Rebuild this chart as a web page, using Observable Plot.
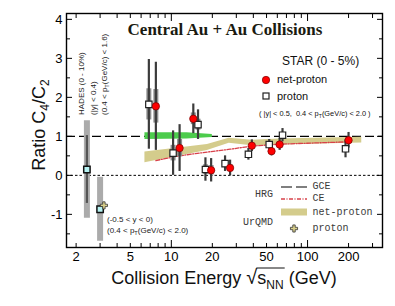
<!DOCTYPE html>
<html><head><meta charset="utf-8">
<script src="https://cdn.jsdelivr.net/npm/d3@7"></script>
<script src="https://cdn.jsdelivr.net/npm/@observablehq/plot@0.6"></script>
<style>body{margin:0;background:#fff} svg{display:block}</style>
</head><body><div id="chart"></div>
<script>
// STAR (0-5%) net-proton C4/C2
const starEnergy = [7.7, 11.5, 14.5, 19.6, 27, 39, 54.4, 62.4, 200];
const netProtonRatio = [1.77, 0.70, 1.45, 0.13, 0.19, 0.76, 0.62, 0.79, 0.90];
const netProtonStat = [1.13, 0.60, 0.38, 0.30, 0.20, 0.15, 0.12, 0.15, 0.20];
const netProtonSys = [0.43, 0.22, 0.15, 0.12, 0.08, 0.06, 0.05, 0.06, 0.07];
// STAR proton C4/C2 (drawn slightly shifted in energy)
const protonEnergy = [6.84, 10.3, 15.7, 17.8, 24.8, 36.8, 52.3, 65.5, 190];
const protonRatio = [1.82, 0.57, 1.30, 0.15, 0.30, 0.54, 0.79, 1.03, 0.68];
const protonStat = [1.15, 0.57, 0.38, 0.30, 0.20, 0.15, 0.13, 0.17, 0.23];
const protonSys = [0.40, 0.20, 0.14, 0.12, 0.08, 0.06, 0.05, 0.06, 0.07];
// HADES (2.4 GeV) and STAR FXT (3 GeV) proton
const fxtEnergy = [2.4, 3.0];
const fxtRatio = [0.15, -0.87];
const fxtStat = [0.87, 0.08];
const fxtSys = [1.25, 0.82];
// UrQMD proton
const urqmdProtonEnergy = [3.2];
const urqmdProtonRatio = [-0.77];
// UrQMD net-proton band
const urqmdBandEnergy = [6.4, 18.4, 26.6, 39, 62.4, 250];
const urqmdBandLow = [0.32, 0.64, 0.82, 0.76, 0.78, 0.83];
const urqmdBandHigh = [0.60, 0.79, 0.95, 0.90, 0.93, 0.98];
// green band
const greenBandEnergy = [6.4, 13, 20];
const greenBandLow = [0.92, 0.93, 0.97];
const greenBandHigh = [1.09, 1.09, 1.05];
// HRG CE
const hrgCeEnergy = [7.7, 11.5, 14.5, 19.6, 27, 39, 62.4, 200];
const hrgCeRatio = [0.38, 0.50, 0.55, 0.61, 0.67, 0.75, 0.80, 0.86];
// HRG GCE
const hrgGceRatio = [1];
const zeroLine = [0];
// ticks
const xTickLabels = [2, 5, 10, 20, 50, 100, 200];
const xMinorTicks = [2, 3, 4, 5, 6, 7, 8, 9, 20, 30, 40, 50, 60, 70, 80, 90, 200, 300];
const xDecadeTicks = [10, 100];
const yTickLabels = [-1, 0, 1, 2, 3, 4];
const yMinorTicks = [-1.5, -0.5, 0.5, 1.5, 2.5, 3.5];

const ix = d3.range(starEnergy.length);
const fx = d3.range(fxtEnergy.length);
const bandU = d3.range(urqmdBandEnergy.length);
const bandG = d3.range(greenBandEnergy.length);
const ce = d3.range(hrgCeEnergy.length);
const blank = () => "";

const plot = Plot.plot({
  width: 395, height: 306,
  marginLeft: 66, marginRight: 13, marginTop: 13, marginBottom: 59,
  x: {type: "log", domain: [1.7, 355]},
  y: {domain: [-1.85, 4.15]},
  style: {fontFamily: "'Liberation Sans', Arial, sans-serif", fontSize: "13px", color: "#000", background: "#fff"},
  marks: [
    Plot.ruleY(zeroLine, {y: d => d, stroke: "#000", strokeWidth: 1, strokeDasharray: "2.5,2"}),
    Plot.ruleY(hrgGceRatio, {y: d => d, stroke: "#000", strokeWidth: 1.1, strokeDasharray: "9,4"}),
    Plot.areaY(bandU, {x: i => urqmdBandEnergy[i], y1: i => urqmdBandLow[i], y2: i => urqmdBandHigh[i], fill: "#d4cc8c"}),
    Plot.areaY(bandG, {x: i => greenBandEnergy[i], y1: i => greenBandLow[i], y2: i => greenBandHigh[i], fill: "#4ccc4c"}),
    Plot.line(ce, {x: i => hrgCeEnergy[i], y: i => hrgCeRatio[i], stroke: "#d8414a", strokeWidth: 1.3, strokeDasharray: "4,1.5,1,1.5"}),
    // systematic boxes
    Plot.ruleX(fx, {x: i => fxtEnergy[i], y1: i => fxtRatio[i] - fxtSys[i], y2: i => fxtRatio[i] + fxtSys[i], stroke: "#ababab", strokeWidth: 6}),
    Plot.ruleX(ix, {x: i => protonEnergy[i], y1: i => protonRatio[i] - protonSys[i], y2: i => protonRatio[i] + protonSys[i], stroke: "#8e8e8e", strokeWidth: 5}),
    Plot.ruleX(ix, {x: i => starEnergy[i], y1: i => netProtonRatio[i] - netProtonSys[i], y2: i => netProtonRatio[i] + netProtonSys[i], stroke: "#8e8e8e", strokeWidth: 5}),
    // statistical bars
    Plot.ruleX(fx, {x: i => fxtEnergy[i], y1: i => fxtRatio[i] - fxtStat[i], y2: i => fxtRatio[i] + fxtStat[i], stroke: "#555", strokeWidth: 2.2}),
    Plot.ruleX(ix, {x: i => protonEnergy[i], y1: i => protonRatio[i] - protonStat[i], y2: i => protonRatio[i] + protonStat[i], stroke: "#3c3c3c", strokeWidth: 2.2}),
    Plot.ruleX(ix, {x: i => starEnergy[i], y1: i => netProtonRatio[i] - netProtonStat[i], y2: i => netProtonRatio[i] + netProtonStat[i], stroke: "#3c3c3c", strokeWidth: 2.2}),
    // markers
    Plot.dot(ix, {x: i => protonEnergy[i], y: i => protonRatio[i], symbol: "square", r: 3.6, fill: "#fff", stroke: "#222", strokeWidth: 1.2}),
    Plot.dot(ix, {x: i => starEnergy[i], y: i => netProtonRatio[i], symbol: "circle", r: 3.7, fill: "#ff0000", stroke: "#700", strokeWidth: 0.7}),
    Plot.dot(fx, {x: i => fxtEnergy[i], y: i => fxtRatio[i], symbol: "square", r: 3.6, fill: "#b6f2f2", stroke: "#111", strokeWidth: 1.5}),
    Plot.dot(urqmdProtonEnergy, {x: d => d, y: (d, i) => urqmdProtonRatio[i], symbol: "cross", r: 3, fill: "#d8cf8a", stroke: "#333", strokeWidth: 0.8}),
    // axes
    Plot.text(xTickLabels, {x: d => d, text: d => String(d), frameAnchor: "bottom", lineAnchor: "top", dy: 4, fontSize: 13, fill: "#000"}),
    Plot.axisX(xMinorTicks, {anchor: "bottom", tickSize: -4, tickFormat: blank, label: null}),
    Plot.axisX(xDecadeTicks, {anchor: "bottom", tickSize: -7, tickFormat: blank, label: null}),
    Plot.axisX(xMinorTicks, {anchor: "top", tickSize: -4, tickFormat: blank, label: null}),
    Plot.axisX(xDecadeTicks, {anchor: "top", tickSize: -7, tickFormat: blank, label: null}),
    Plot.axisY(yTickLabels, {anchor: "left", tickSize: -6, tickPadding: 10, tickFormat: d => String(d), fontSize: 13, label: null}),
    Plot.axisY(yMinorTicks, {anchor: "left", tickSize: -4, tickFormat: blank, label: null}),
    Plot.axisY(yTickLabels, {anchor: "right", tickSize: -6, tickFormat: blank, label: null}),
    Plot.axisY(yMinorTicks, {anchor: "right", tickSize: -4, tickFormat: blank, label: null}),
    Plot.frame({stroke: "#000", strokeWidth: 1.4})
  ]
});
document.getElementById("chart").appendChild(plot);

// ---------- annotations ----------
const svg = d3.select(plot);
const g = svg.append("g").attr("fill", "#111").attr("text-anchor", "start");
const sans = "'Liberation Sans', Arial, sans-serif";
const mono = "'Liberation Mono', 'DejaVu Sans Mono', monospace";

// Axis labels
const yl = g.append("text").attr("transform", "translate(45,125) rotate(-90)")
  .attr("text-anchor", "middle").attr("font-family", sans).attr("font-size", 18);
yl.append("tspan").text("Ratio C");
yl.append("tspan").attr("font-size", 12).attr("dy", 4).text("4");
yl.append("tspan").attr("dy", -4).text("/C");
yl.append("tspan").attr("font-size", 12).attr("dy", 4).text("2");

const xl = g.append("text").attr("x", 224).attr("y", 284).attr("text-anchor", "middle")
  .attr("font-family", sans).attr("font-size", 18);
xl.append("tspan").text("Collision Energy ");
xl.append("tspan").attr("font-size", 20).text("\u221A");
xl.append("tspan").text("s");
xl.append("tspan").attr("font-size", 12).attr("dy", 5).text("NN");
xl.append("tspan").attr("dy", -5).text(" (GeV)");
try {
  const node = xl.node();
  const s0 = node.getStartPositionOfChar(18);
  const e0 = node.getEndPositionOfChar(20);
  g.append("line").attr("x1", s0.x - 1).attr("x2", e0.x + 1).attr("y1", 284 - 16).attr("y2", 284 - 16)
    .attr("stroke", "#111").attr("stroke-width", 1);
} catch (e) {}

// Title
g.append("text").attr("x", 225).attr("y", 35).attr("text-anchor", "middle")
  .attr("font-family", "'Liberation Serif', 'Times New Roman', serif").attr("font-weight", "bold")
  .attr("font-size", 17).attr("fill", "#1a1a10").text("Central Au + Au Collisions");

// STAR legend
g.append("text").attr("x", 282).attr("y", 65).attr("font-family", sans).attr("font-size", 12).text("STAR (0 - 5%)");
g.append("circle").attr("cx", 266).attr("cy", 80).attr("r", 3.7).attr("fill", "#f00").attr("stroke", "#700").attr("stroke-width", 0.7);
g.append("text").attr("x", 277).attr("y", 82.5).attr("font-family", sans).attr("font-size", 11).text("net-proton");
g.append("rect").attr("x", 263).attr("y", 93).attr("width", 6).attr("height", 6).attr("fill", "#fff").attr("stroke", "#222").attr("stroke-width", 1.2);
g.append("text").attr("x", 277).attr("y", 100).attr("font-family", sans).attr("font-size", 11).text("proton");
function ptText(sel, parts) {
  parts.forEach(p => {
    if (p.sub) sel.append("tspan").attr("font-size", "0.7em").attr("dy", 2).text(p.sub);
    else sel.append("tspan").attr("dy", p.back ? -2 : 0).text(p.t);
  });
}
const acc = g.append("text").attr("x", 259).attr("y", 116).attr("font-family", sans).attr("font-size", 7.4);
ptText(acc, [{t: "( |y| < 0.5,  0.4 < p"}, {sub: "T"}, {t: "(GeV/c) < 2.0 )", back: true}]);

// HADES labels (rotated)
const hadesLines = [
  [{t: "HADES (0 - 10%)"}],
  [{t: "(|y| < 0.4)"}],
  [{t: "(0.4 < p"}, {sub: "T"}, {t: "(GeV/c) < 1.6)", back: true}]
];
[84, 95.5, 107].forEach((bx, k) => {
  const t = g.append("text").attr("transform", `translate(${bx},115) rotate(-90)`)
    .attr("font-family", sans).attr("font-size", 8).attr("fill", "#222");
  ptText(t, hadesLines[k]);
});
g.append("text").attr("x", 107).attr("y", 222).attr("font-family", sans).attr("font-size", 8).attr("fill", "#222").text("(-0.5 < y < 0)");
const fxtAcc = g.append("text").attr("x", 107).attr("y", 233).attr("font-family", sans).attr("font-size", 8).attr("fill", "#222");
ptText(fxtAcc, [{t: "(0.4 < p"}, {sub: "T"}, {t: "(GeV/c) < 2.0)", back: true}]);

// Model legend
const monoCol = "#3a3a3a";
function monoText(x, y, s) {
  g.append("text").attr("x", x).attr("y", y).attr("font-family", mono).attr("font-size", 10)
    .attr("font-weight", "normal").attr("fill", monoCol).text(s);
}
monoText(255, 197, "HRG");
monoText(243, 224.5, "UrQMD");
g.append("line").attr("x1", 281).attr("x2", 307).attr("y1", 187).attr("y2", 187).attr("stroke", "#000").attr("stroke-width", 1.2).attr("stroke-dasharray", "11,4");
monoText(312.5, 189, "GCE");
g.append("line").attr("x1", 281).attr("x2", 307).attr("y1", 199).attr("y2", 199).attr("stroke", "#d8414a").attr("stroke-width", 1.4).attr("stroke-dasharray", "4,1.5,1,1.5");
monoText(312.5, 200.5, "CE");
g.append("rect").attr("x", 281).attr("y", 208.5).attr("width", 26).attr("height", 7).attr("fill", "#d4cc8c");
monoText(312.5, 215, "net-proton");
g.append("path").attr("transform", "translate(294,228.5)").attr("d", d3.symbol(d3.symbolCross, Math.PI * 9)())
  .attr("fill", "#d8cf8a").attr("stroke", "#333").attr("stroke-width", 0.8);
monoText(312.5, 231, "proton");
</script>
</body></html>
